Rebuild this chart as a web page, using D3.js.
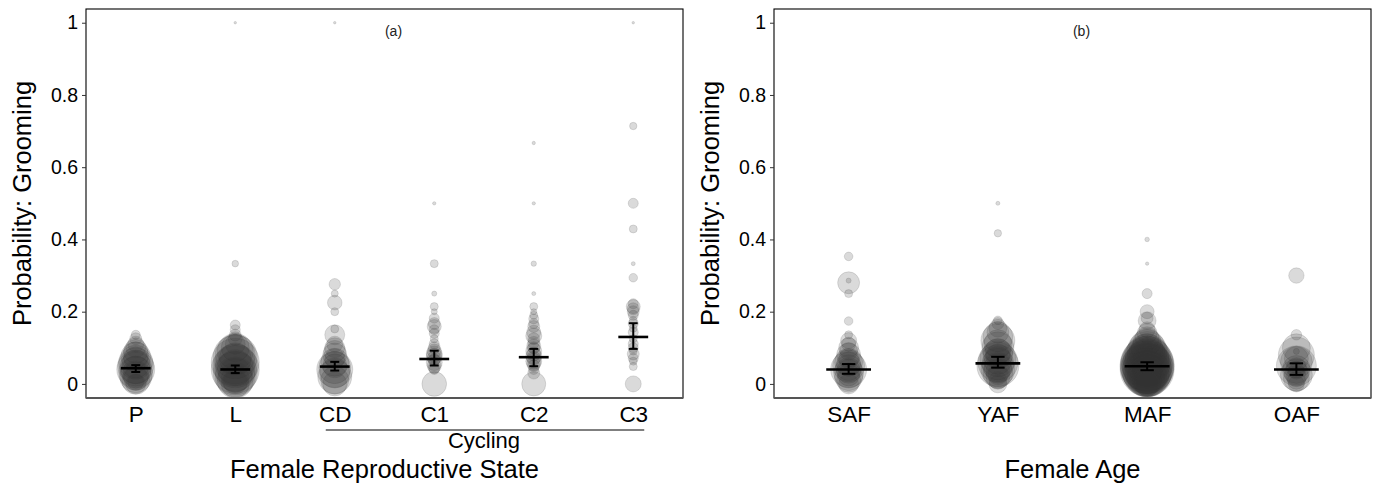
<!DOCTYPE html>
<html>
<head>
<meta charset="utf-8">
<script src="https://cdn.jsdelivr.net/npm/d3@7"></script>
<style>
  body { margin: 0; background: #fff; }
  svg text { font-family: "Liberation Sans", Arial, sans-serif; }
</style>
</head>
<body>
<div id="chart"></div>
<script>
// categories and ticks
var stateCats = ["P", "L", "CD", "C1", "C2", "C3"];
var ageCats = ["SAF", "YAF", "MAF", "OAF"];
var yTicks = [0, 0.2, 0.4, 0.6, 0.8, 1];

// model means and confidence limits
var stateMeans = [0.0435, 0.040, 0.048, 0.069, 0.074, 0.130];
var stateLower = [0.033, 0.030, 0.037, 0.051, 0.049, 0.097];
var stateUpper = [0.052, 0.051, 0.061, 0.092, 0.097, 0.168];
var ageMeans = [0.040, 0.057, 0.049, 0.040];
var ageLower = [0.028, 0.045, 0.038, 0.025];
var ageUpper = [0.055, 0.075, 0.060, 0.057];

// raw points: [probability, observation hours]
var ptsP = [[0.136,5.1],[0.125,9],[0.11,16],[0.10,25],[0.09,36],[0.08,42],[0.075,56],[0.07,36],[0.06,72],[0.055,49],[0.05,81],[0.045,64],[0.04,90],[0.035,56],[0.03,72],[0.025,42],[0.02,64],[0.015,36],[0.01,49],[0.005,16],[0,25]];
var ptsL = [[1,0.4],[0.333,2.7],[0.163,6.3],[0.15,6.3],[0.135,9],[0.125,12.3],[0.11,25],[0.1,49],[0.09,81],[0.08,100],[0.075,121],[0.07,64],[0.06,144],[0.055,100],[0.05,121],[0.045,81],[0.04,144],[0.035,100],[0.03,121],[0.025,72],[0.02,100],[0.015,49],[0.01,81],[0.005,36],[0,49]];
var ptsCD = [[1,0.4],[0.276,8.1],[0.25,3.1],[0.225,13.3],[0.2,4],[0.152,4],[0.136,25],[0.11,16],[0.1,25],[0.09,30],[0.08,36],[0.07,25],[0.06,49],[0.05,36],[0.045,64],[0.04,81],[0.03,56],[0.02,72],[0.01,49],[0,36]];
var ptsC1 = [[0.5,0.7],[0.333,4],[0.25,1.6],[0.214,4],[0.2,2.3],[0.182,6.3],[0.167,9],[0.159,12.3],[0.15,6.3],[0.14,6.3],[0.125,4],[0.111,6.3],[0.1,9],[0.091,12.3],[0.083,16],[0.077,16],[0.071,12.3],[0.067,9],[0.059,16],[0.05,12.3],[0.045,9],[0.04,6.3],[0,38]];
var ptsC2 = [[0.667,0.7],[0.5,0.7],[0.333,1.8],[0.25,1],[0.214,4],[0.2,2.3],[0.19,4],[0.18,6.3],[0.167,6.3],[0.159,9],[0.143,12.3],[0.133,16],[0.125,9],[0.115,9],[0.105,12.3],[0.1,9],[0.091,16],[0.083,12.3],[0.077,16],[0.071,12.3],[0.063,16],[0.056,12.3],[0.05,9],[0.04,6.3],[0.03,9],[0,36]];
var ptsC3 = [[1,0.4],[0.714,3.4],[0.5,6.3],[0.429,4],[0.333,1],[0.294,4.6],[0.222,6.3],[0.214,12.3],[0.208,9],[0.2,9],[0.19,6.3],[0.176,4],[0.167,6.3],[0.154,4],[0.143,6.3],[0.125,4],[0.111,6.3],[0.1,6.3],[0.091,4],[0.083,9],[0.071,6.3],[0.063,4],[0.048,4],[0,16]];
var ptsSAF = [[0.353,4.6],[0.28,30],[0.286,1.6],[0.25,4],[0.174,4.6],[0.136,4],[0.12,16],[0.11,12.3],[0.1,25],[0.09,20],[0.08,36],[0.07,25],[0.06,49],[0.055,36],[0.05,64],[0.045,42],[0.04,81],[0.035,36],[0.03,56],[0.025,30],[0.02,49],[0.01,36],[0,25]];
var ptsYAF = [[0.5,1],[0.417,3.4],[0.176,4.6],[0.167,9],[0.154,20],[0.143,30],[0.13,56],[0.12,72],[0.111,49],[0.1,64],[0.09,42],[0.083,56],[0.077,36],[0.07,81],[0.065,49],[0.06,100],[0.055,64],[0.05,110],[0.045,49],[0.04,72],[0.035,36],[0.03,56],[0.025,25],[0.02,36],[0.01,20],[0,20]];
var ptsMAF = [[0.4,1.3],[0.333,0.7],[0.25,6.3],[0.2,12.3],[0.182,9],[0.175,20],[0.15,16],[0.14,25],[0.125,36],[0.115,49],[0.1,81],[0.095,64],[0.09,100],[0.083,81],[0.077,121],[0.071,100],[0.067,144],[0.063,121],[0.059,169],[0.056,132],[0.053,182],[0.05,156],[0.048,182],[0.045,144],[0.042,169],[0.04,182],[0.038,132],[0.036,156],[0.033,121],[0.03,144],[0.028,100],[0.025,121],[0.022,81],[0.02,100],[0.018,64],[0.015,81],[0.01,56],[0.005,49],[0,36]];
var ptsOAF = [[0.3,14.8],[0.136,7],[0.09,2.3],[0.1,49],[0.08,81],[0.07,36],[0.06,64],[0.05,100],[0.045,25],[0.04,49],[0.035,16],[0.03,36],[0.025,64],[0.02,25],[0.015,42],[0.01,20],[0,16]];

var width = 1373, height = 491;
var plotTop = 9, plotBottom = 398;

var svg = d3.select("#chart").append("svg")
    .attr("width", width)
    .attr("height", height);

var y = d3.scaleLinear().domain([-0.039, 1.038]).range([plotBottom, plotTop]);
var r = d3.scaleSqrt().domain([0, 100]).range([0, 20]);

function drawPanel(left, right, cats, pts, means, lower, upper, xTitle, tag) {
    var x = d3.scalePoint().domain(cats).range([left, right]).padding(0.5);
    var step = x.step();
    var g = svg.append("g");

    // bubbles
    cats.forEach(function(c, i) {
        g.append("g").selectAll("circle")
            .data(pts[i])
            .enter().append("circle")
            .attr("cx", x(c))
            .attr("cy", function(d) { return y(d[0]); })
            .attr("r", function(d) { return r(d[1]); })
            .style("fill", "#333")
            .style("fill-opacity", 0.18)
            .style("stroke", "#444")
            .style("stroke-opacity", 0.22)
            .style("stroke-width", 0.7);
    });

    // error bars + mean
    var eb = g.append("g").style("stroke", "#000");
    cats.forEach(function(c, i) {
        var cx = x(c);
        eb.append("line").attr("x1", cx).attr("x2", cx)
            .attr("y1", y(lower[i])).attr("y2", y(upper[i])).style("stroke-width", 2);
        [lower[i], upper[i]].forEach(function(v) {
            eb.append("line").attr("x1", cx - step * 0.045).attr("x2", cx + step * 0.045)
                .attr("y1", y(v)).attr("y2", y(v)).style("stroke-width", 2);
        });
        eb.append("line").attr("x1", cx - step * 0.15).attr("x2", cx + step * 0.15)
            .attr("y1", y(means[i])).attr("y2", y(means[i])).style("stroke-width", 2.6);
    });

    // frame
    g.append("rect")
        .attr("x", left).attr("y", plotTop)
        .attr("width", right - left).attr("height", plotBottom - plotTop)
        .style("fill", "none").style("stroke", "#000").style("stroke-width", 1.1);
    g.append("line")
        .attr("x1", left).attr("x2", right).attr("y1", plotBottom).attr("y2", plotBottom)
        .style("stroke", "#555").style("stroke-width", 1.8);

    // y axis
    var ya = g.append("g")
        .attr("transform", "translate(" + left + ",0)")
        .call(d3.axisLeft(y).tickValues(yTicks).tickSize(4).tickPadding(4).tickFormat(d3.format("~g")));
    ya.select(".domain").remove();
    ya.selectAll(".tick line").style("stroke", "#333");
    ya.selectAll("text").style("font-size", "19.5px").style("fill", "#000")
        .style("font-family", "'Liberation Sans', Arial, sans-serif");

    // x axis
    var xa = g.append("g")
        .attr("transform", "translate(0," + plotBottom + ")")
        .call(d3.axisBottom(x).tickSize(0).tickPadding(8));
    xa.select(".domain").remove();
    xa.selectAll("text").style("font-size", "22.5px").style("fill", "#000")
        .style("font-family", "'Liberation Sans', Arial, sans-serif");

    // titles
    g.append("text")
        .attr("transform", "translate(" + (left - 55) + "," + ((plotTop + plotBottom) / 2) + ") rotate(-90)")
        .attr("text-anchor", "middle")
        .style("font-size", "25.5px")
        .text("Probability: Grooming");

    g.append("text")
        .attr("x", (left + right) / 2).attr("y", 478)
        .attr("text-anchor", "middle")
        .style("font-size", "25.5px")
        .text(xTitle);

    g.append("text")
        .attr("x", (left + right) / 2 + 9).attr("y", 36)
        .attr("text-anchor", "middle")
        .style("font-size", "14px")
        .style("fill", "#222")
        .text(tag);

    return x;
}

var xa = drawPanel(86, 683, stateCats, [ptsP, ptsL, ptsCD, ptsC1, ptsC2, ptsC3],
    stateMeans, stateLower, stateUpper, "Female Reproductive State", "(a)");
drawPanel(774, 1371, ageCats, [ptsSAF, ptsYAF, ptsMAF, ptsOAF],
    ageMeans, ageLower, ageUpper, "Female Age", "(b)");

// bracket under the cycling states
var cyc = ["CD", "C3"];
svg.append("line")
    .attr("x1", xa(cyc[0]) - 9).attr("x2", xa(cyc[1]) + 11)
    .attr("y1", 430).attr("y2", 430)
    .style("stroke", "#000").style("stroke-width", 1);
svg.append("text")
    .attr("x", (xa(cyc[0]) + xa(cyc[1])) / 2).attr("y", 448)
    .attr("text-anchor", "middle")
    .style("font-size", "22px")
    .text("Cycling");
</script>
</body>
</html>
